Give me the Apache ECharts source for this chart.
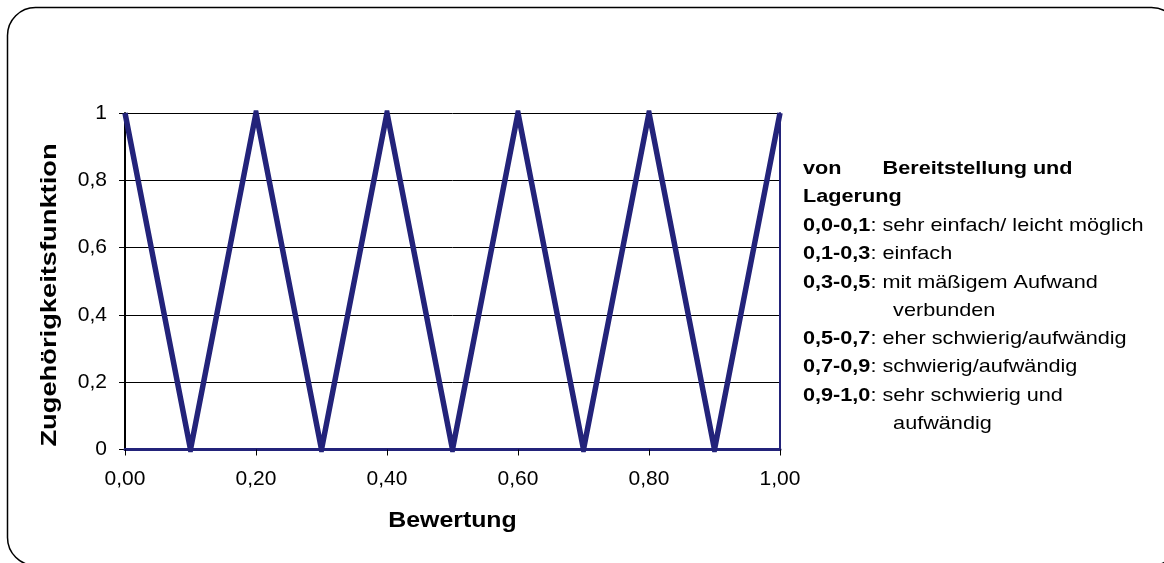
<!DOCTYPE html>
<html>
<head>
<meta charset="utf-8">
<script src="https://cdn.jsdelivr.net/npm/echarts@6/dist/echarts.min.js"></script>
<style>
  html, body { margin: 0; padding: 0; background: #fff; }
  #chart { width: 1164px; height: 563px; }
</style>
</head>
<body>
<div id="chart"></div>
<script>
// Membership function: triangular zig-zag over the rating scale
const bewertung = [0.0, 0.1, 0.2, 0.3, 0.4, 0.5, 0.6, 0.7, 0.8, 0.9, 1.0];
const zugehoerigkeit = [1, 0, 1, 0, 1, 0, 1, 0, 1, 0, 1];

const xTitle = 'Bewertung';
const yTitle = 'Zugehörigkeitsfunktion';

// Legend text block on the right
const legendHead = ['von', 'Bereitstellung und', 'Lagerung'];
const legendRanges = ['0,0-0,1', '0,1-0,3', '0,3-0,5', '', '0,5-0,7', '0,7-0,9', '0,9-1,0', ''];
const legendTexts = ['sehr einfach/ leicht möglich', 'einfach', 'mit mäßigem Aufwand', 'verbunden',
                     'eher schwierig/aufwändig', 'schwierig/aufwändig', 'sehr schwierig und', 'aufwändig'];

const NAVY = '#23237a';
const FONT = '"Liberation Sans", Arial, sans-serif';

const chart = echarts.init(document.getElementById('chart'), null, { renderer: 'canvas' });

const fmtX = v => v.toFixed(2).replace('.', ',');
const fmtY = v => (Math.round(v * 10) / 10).toString().replace('.', ',');

// legend lines: vertical centres
const legendY = [226, 254, 283, 311, 339, 367, 396, 424];
const legendChildren = [
  { type: 'text', x: 0, y: 169, style: { text: legendHead[0], font: 'bold 18.5px ' + FONT, fill: '#000', verticalAlign: 'middle' } },
  { type: 'text', x: 68, y: 169, style: { text: legendHead[1], font: 'bold 18.5px ' + FONT, fill: '#000', verticalAlign: 'middle' } },
  { type: 'text', x: 0, y: 197, style: { text: legendHead[2], font: 'bold 18.5px ' + FONT, fill: '#000', verticalAlign: 'middle' } }
];
legendTexts.forEach((t, i) => {
  const r = legendRanges[i];
  legendChildren.push({
    type: 'text',
    x: r ? 0 : 77,
    y: legendY[i],
    style: {
      text: r ? '{b|' + r + '}: ' + t : t,
      font: '18.5px ' + FONT,
      fill: '#000',
      verticalAlign: 'middle',
      rich: { b: { fontWeight: 'bold', fontSize: 18.5, fontFamily: FONT, fill: '#000' } }
    }
  });
});

const option = {
  animation: false,
  backgroundColor: '#fff',
  grid: { left: 125, right: 384, top: 113, bottom: 113.5, containLabel: false },
  xAxis: [
    {
      type: 'value', min: 0, max: 1, interval: 0.2, position: 'bottom', z: 3,
      axisLine: { show: true, onZero: false, lineStyle: { color: NAVY, width: 2 } },
      axisTick: { show: true, length: 6, inside: false, lineStyle: { color: '#000', width: 1 } },
      axisLabel: { formatter: fmtX, margin: 19, fontSize: 21, fontFamily: FONT, color: '#000' },
      splitLine: { show: false }
    },
    {
      type: 'value', min: 0, max: 1, interval: 0.2, position: 'top', z: 3,
      axisLine: { show: true, lineStyle: { color: NAVY, width: 3 } },
      axisTick: { show: false }, axisLabel: { show: false }, splitLine: { show: false }
    }
  ],
  yAxis: [
    {
      type: 'value', min: 0, max: 1, interval: 0.2, position: 'left', z: 1,
      axisLine: { show: true, onZero: false, lineStyle: { color: '#000', width: 2 } },
      axisTick: { show: true, length: 6, inside: false, lineStyle: { color: '#000', width: 1 } },
      axisLabel: { formatter: fmtY, margin: 18, fontSize: 21, fontFamily: FONT, color: '#000' },
      splitLine: { show: true, lineStyle: { color: '#000', width: 1 } }
    },
    {
      type: 'value', min: 0, max: 1, interval: 0.2, position: 'right', z: 3,
      axisLine: { show: true, onZero: false, lineStyle: { color: NAVY, width: 2 } },
      axisTick: { show: false }, axisLabel: { show: false }, splitLine: { show: false }
    }
  ],
  series: [{
    type: 'line',
    data: bewertung.map((x, i) => [x, zugehoerigkeit[i]]),
    showSymbol: false,
    symbol: 'none',
    z: 4,
    lineStyle: { color: NAVY, width: 5.5, join: 'miter' }
  }],
  graphic: [
    {
      type: 'rect', z: 10, silent: true,
      shape: { x: 7.5, y: 7.5, width: 1172, height: 558, r: 28 },
      style: { fill: 'none', stroke: '#000', lineWidth: 1.5 }
    },
    {
      type: 'text', z: 10, x: 452.5, y: 521, scaleX: 1.13,
      style: { text: xTitle, font: 'bold 22px ' + FONT, fill: '#000', align: 'center', verticalAlign: 'middle' }
    },
    {
      type: 'text', z: 10, x: 50, y: 295, rotation: Math.PI / 2, scaleX: 1.24,
      style: { text: yTitle, font: 'bold 22px ' + FONT, fill: '#000', align: 'center', verticalAlign: 'middle' }
    },
    {
      type: 'group', x: 803, y: 0, scaleX: 1.17,
      children: legendChildren
    }
  ]
};

chart.setOption(option);
</script>
</body>
</html>
